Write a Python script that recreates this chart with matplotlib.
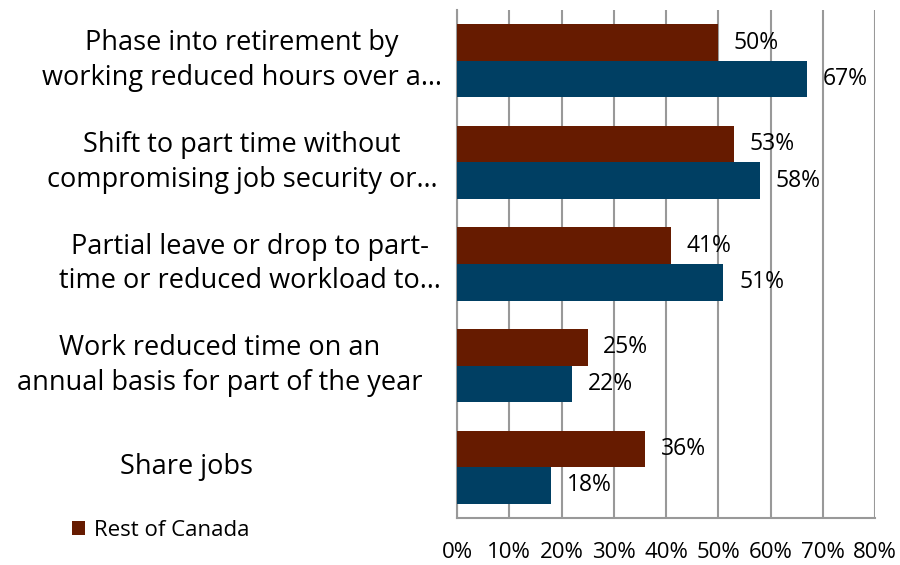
import matplotlib.pyplot as plt
import numpy as np
from matplotlib.transforms import blended_transform_factory

plt.rcParams['font.family'] = ['Open Sans', 'DejaVu Sans']

# data
categories = [
    'Phase into retirement by\nworking reduced hours over a…',
    'Shift to part time without\ncompromising job security or…',
    'Partial leave or drop to part-\ntime or reduced workload to…',
    'Work reduced time on an\nannual basis for part of the year',
    'Share jobs',
]
rest_of_canada = [50, 53, 41, 25, 36]
quebec = [67, 58, 51, 22, 18]
xticks = [0, 10, 20, 30, 40, 50, 60, 70, 80]

# label centres in figure pixels (Excel centres wrapped text)
label_x = [242, 242, 250, 220, 186]

red = '#661B00'
blue = '#003F63'

fig = plt.figure(figsize=(9, 5.65), dpi=100)
ax = fig.add_axes([457 / 900, 1 - 518 / 565, 418 / 900, 508 / 565])

y = np.arange(len(categories))
h = 0.36
ax.barh(y - h / 2, rest_of_canada, height=h, color=red, label='Rest of Canada', zorder=3)
ax.barh(y + h / 2, quebec, height=h, color=blue, zorder=3)

for yi, v in zip(y, rest_of_canada):
    ax.text(v + 3.0, yi - h / 2, f'{v}%', va='center', ha='left', fontsize=16.5, zorder=4)
for yi, v in zip(y, quebec):
    ax.text(v + 3.0, yi + h / 2, f'{v}%', va='center', ha='left', fontsize=16.5, zorder=4)

ax.set_xlim(0, 80)
ax.set_ylim(4.5, -0.5)
ax.set_xticks(xticks)
ax.set_xticklabels([f'{t}%' for t in xticks], fontsize=16)
ax.tick_params(axis='x', length=0, pad=17)
ax.set_yticks([])
ax.grid(axis='x', color='#999999', linewidth=1.5, zorder=0)
for s in ['top', 'right']:
    ax.spines[s].set_visible(False)
ax.spines['left'].set_color('#999999')
ax.spines['left'].set_linewidth(1.5)
ax.spines['bottom'].set_color('#999999')
ax.spines['bottom'].set_linewidth(1.5)

# category labels
trans = blended_transform_factory(fig.transFigure, ax.transData)
for yi, lab, lx in zip(y, categories, label_x):
    ax.text(lx / 900, yi, lab, transform=trans, ha='center', va='center',
            fontsize=19.5, linespacing=1.32, multialignment='center')

# legend
fig.legend(handles=[ax.patches[0]], labels=['Rest of Canada'], loc='center left',
           bbox_to_anchor=(52 / 900, 1 - 530 / 565), frameon=False, fontsize=16,
           handlelength=0.6, handleheight=0.6, handletextpad=0.4)

plt.savefig('out.png')
